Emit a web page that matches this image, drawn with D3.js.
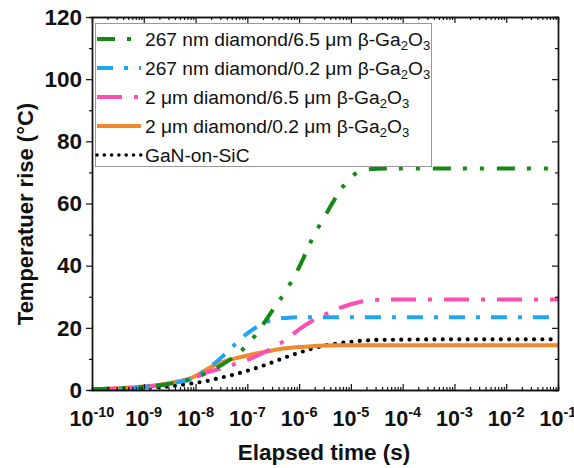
<!DOCTYPE html>
<html>
<head>
<meta charset="utf-8">
<script src="https://cdn.jsdelivr.net/npm/d3@7"></script>
<style>
  body { margin: 0; background: #fff; }
  svg { display: block; }
  text { font-family: "Liberation Sans", Arial, Helvetica, sans-serif; }
</style>
</head>
<body>
<svg id="chart" width="574" height="468"></svg>
<script>
// Elapsed time samples, given as powers of ten (seconds)
const timeExponents = [-10, -9.5, -9, -8.5, -8, -7.75, -7.5, -7.25, -7, -6.75, -6.5, -6.25, -6, -5.75, -5.5, -5.25, -5, -4.75, -4.5, -4, -3, -2, -1];

// Temperature rise (°C) for each structure
const diamond267Ga65 = [0.2, 0.5, 1.0, 2.0, 4.0, 5.8, 8.0, 10.8, 14.5, 19.8, 26.0, 32.0, 39.5, 48.5, 56.0, 63.0, 68.5, 70.7, 71.2, 71.3, 71.3, 71.3, 71.3];
const diamond267Ga02 = [0.2, 0.5, 1.0, 2.0, 4.2, 7.0, 10.5, 14.5, 18.2, 20.9, 22.7, 23.2, 23.4, 23.4, 23.4, 23.4, 23.4, 23.4, 23.4, 23.4, 23.4, 23.4, 23.4];
const diamond2Ga65   = [0.2, 0.5, 1.0, 2.0, 4.2, 5.8, 7.0, 8.3, 9.7, 11.5, 13.7, 16.2, 19.5, 22.2, 24.3, 26.2, 27.6, 28.6, 29.0, 29.1, 29.1, 29.1, 29.1];
const diamond2Ga02   = [0.3, 0.6, 1.1, 2.2, 4.5, 7.0, 8.9, 10.1, 11.1, 12.0, 12.8, 13.4, 13.8, 14.1, 14.3, 14.4, 14.4, 14.4, 14.4, 14.4, 14.4, 14.4, 14.4];
const ganOnSiC       = [0.1, 0.3, 0.6, 1.2, 2.3, 3.0, 4.0, 5.0, 6.2, 7.5, 9.0, 10.6, 12.0, 13.3, 14.3, 15.0, 15.5, 15.9, 16.1, 16.2, 16.3, 16.3, 16.3];

const seriesNames = [
  "267 nm diamond/6.5 μm β-Ga2O3",
  "267 nm diamond/0.2 μm β-Ga2O3",
  "2 μm diamond/6.5 μm β-Ga2O3",
  "2 μm diamond/0.2 μm β-Ga2O3",
  "GaN-on-SiC"
];
const seriesValues = [diamond267Ga65, diamond267Ga02, diamond2Ga65, diamond2Ga02, ganOnSiC];
const seriesColors = ["#148a14", "#21a5f2", "#fb4fb2", "#f0882f", "#000000"];
const seriesDashes = ["18,12,4,13,4,13", "16,11,4,11", "25,12,4,12", null, "0,8.3"];

const yTicks = [0, 20, 40, 60, 80, 100, 120];
const yMinorTicks = [10, 30, 50, 70, 90, 110];
const xDecadeExponents = [-10, -9, -8, -7, -6, -5, -4, -3, -2, -1];

const svg = d3.select("#chart");
const margin = { left: 92, right: 558, top: 17, bottom: 390 };

const x = d3.scaleLog().domain([1e-10, 1e-1]).range([margin.left, margin.right]);
const y = d3.scaleLinear().domain([0, 120]).range([margin.bottom, margin.top]);

// Minor tick positions on the log axis (2..9 within each decade)
const xMinor = [];
xDecadeExponents.slice(0, -1).forEach(e => {
  for (let k = 2; k <= 9; k++) xMinor.push(k * Math.pow(10, e));
});
const xMajor = xDecadeExponents.map(e => Math.pow(10, e));

// Clip region for the curves
svg.append("defs").append("clipPath").attr("id", "plot-clip")
  .append("rect")
  .attr("x", margin.left).attr("y", margin.top)
  .attr("width", margin.right - margin.left)
  .attr("height", margin.bottom - margin.top);

// Curves
const line = d3.line()
  .x(d => x(d.t))
  .y(d => y(d.v))
  .curve(d3.curveMonotoneX);

const curves = svg.append("g").attr("clip-path", "url(#plot-clip)");
// draw the black dotted curve first so coloured lines sit on top where they overlap
const drawOrder = [4, 3, 2, 1, 0];
drawOrder.forEach(i => {
  const pts = timeExponents.map((e, j) => ({ t: Math.pow(10, e), v: seriesValues[i][j] }));
  curves.append("path")
    .datum(pts)
    .attr("d", line)
    .attr("fill", "none")
    .attr("stroke", seriesColors[i])
    .attr("stroke-width", i === 4 ? 4.2 : 4)
    .attr("stroke-linecap", i === 4 ? "round" : "butt")
    .attr("stroke-dasharray", seriesDashes[i]);
});

// Axes: frame with ticks on all four sides
function styleAxis(g) {
  g.selectAll(".domain").attr("stroke", "#111").attr("stroke-width", 1.4);
  g.selectAll(".tick line").attr("stroke", "#111").attr("stroke-width", 1.2);
}

// left axis: major ticks with labels, outward
const leftAxis = svg.append("g")
  .attr("transform", `translate(${margin.left},0)`)
  .call(d3.axisLeft(y).tickValues(yTicks).tickSize(6).tickSizeOuter(0).tickPadding(4));
leftAxis.selectAll(".tick text")
  .attr("font-size", 22.5).attr("font-weight", "bold").attr("fill", "#111")
  .attr("font-family", '"Liberation Sans", Arial, sans-serif');
styleAxis(leftAxis);
const leftMinor = svg.append("g")
  .attr("transform", `translate(${margin.left},0)`)
  .call(d3.axisLeft(y).tickValues(yMinorTicks).tickSize(3).tickFormat(""));
styleAxis(leftMinor);

// right axis: inward ticks, no labels
const rightAxis = svg.append("g")
  .attr("transform", `translate(${margin.right},0)`)
  .call(d3.axisLeft(y).tickValues(yTicks).tickSize(6).tickSizeOuter(0).tickFormat(""));
styleAxis(rightAxis);
const rightMinor = svg.append("g")
  .attr("transform", `translate(${margin.right},0)`)
  .call(d3.axisLeft(y).tickValues(yMinorTicks).tickSize(3).tickFormat(""));
styleAxis(rightMinor);

// bottom axis: inward ticks
const bottomAxis = svg.append("g")
  .attr("transform", `translate(0,${margin.bottom})`)
  .call(d3.axisTop(x).tickValues(xMajor).tickSize(6).tickSizeOuter(0).tickFormat(""));
styleAxis(bottomAxis);
const bottomMinor = svg.append("g")
  .attr("transform", `translate(0,${margin.bottom})`)
  .call(d3.axisTop(x).tickValues(xMinor).tickSize(3).tickFormat(""));
styleAxis(bottomMinor);

// top axis: inward ticks
const topAxis = svg.append("g")
  .attr("transform", `translate(0,${margin.top})`)
  .call(d3.axisBottom(x).tickValues(xMajor).tickSize(6).tickSizeOuter(0).tickFormat(""));
styleAxis(topAxis);
const topMinor = svg.append("g")
  .attr("transform", `translate(0,${margin.top})`)
  .call(d3.axisBottom(x).tickValues(xMinor).tickSize(3).tickFormat(""));
styleAxis(topMinor);

// x tick labels as powers of ten
const xLabels = svg.append("g");
xDecadeExponents.forEach(e => {
  const t = xLabels.append("text")
    .attr("x", x(Math.pow(10, e)))
    .attr("y", 426)
    .attr("text-anchor", "middle")
    .attr("font-size", 21.5)
    .attr("font-weight", "bold")
    .attr("fill", "#111");
  t.append("tspan").text("10");
  t.append("tspan").attr("dy", -9).attr("font-size", 14.5).text(String(e));
});

// axis titles
svg.append("text")
  .attr("x", 324).attr("y", 460)
  .attr("text-anchor", "middle")
  .attr("font-size", 22.5).attr("font-weight", "bold").attr("fill", "#111")
  .text("Elapsed time (s)");

svg.append("text")
  .attr("transform", "translate(33,214) rotate(-90)")
  .attr("text-anchor", "middle")
  .attr("font-size", 22).attr("font-weight", "bold").attr("fill", "#111")
  .text("Temperatuer rise (°C)");

// legend
const legend = svg.append("g");
legend.append("rect")
  .attr("x", 95.5).attr("y", 23.5)
  .attr("width", 336).attr("height", 143)
  .attr("fill", "#fff").attr("stroke", "#999").attr("stroke-width", 1);

const legendRowY = d3.scalePoint().domain(d3.range(seriesNames.length)).range([39, 155]);

function richLabel(sel, str, size) {
  const parts = str.split("Ga2O3");
  sel.append("tspan").text(parts[0]);
  if (parts.length > 1) {
    sel.append("tspan").text("Ga");
    sel.append("tspan").attr("dy", 4).attr("font-size", size * 0.68).text("2");
    sel.append("tspan").attr("dy", -4).text("O");
    sel.append("tspan").attr("dy", 4).attr("font-size", size * 0.68).text("3");
  }
}

seriesNames.forEach((name, i) => {
  const yy = legendRowY(i);
  legend.append("line")
    .attr("x1", 97).attr("x2", 141)
    .attr("y1", yy).attr("y2", yy)
    .attr("stroke", seriesColors[i])
    .attr("stroke-width", i === 4 ? 3.6 : 4)
    .attr("stroke-linecap", i === 4 ? "round" : "butt")
    .attr("stroke-dasharray", i === 4 ? "0,7.3" : seriesDashes[i]);
  const t = legend.append("text")
    .attr("x", 145).attr("y", yy + 6.8)
    .attr("font-size", 19.2).attr("fill", "#111");
  richLabel(t, name, 19.2);
});
</script>
</body>
</html>
